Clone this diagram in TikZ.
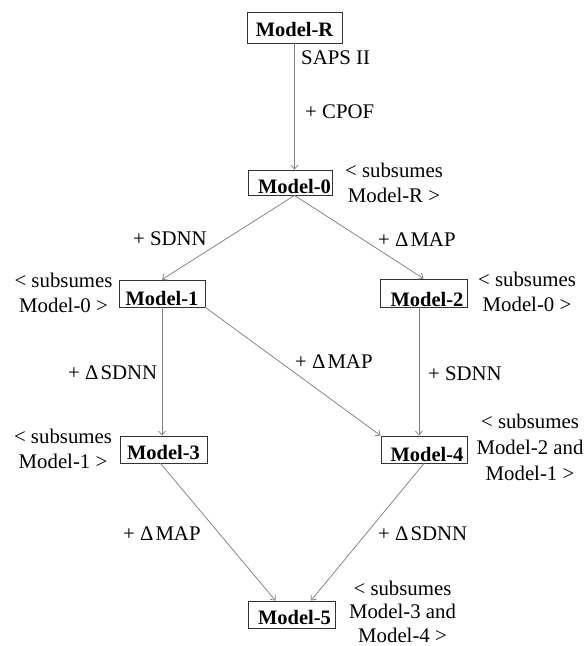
\documentclass[tikz,border=0pt]{standalone}
\usepackage{fontspec}
\setmainfont{Liberation Serif}
\usetikzlibrary{arrows.meta}

\tikzset{
  mbox/.style={draw=black!80, line width=0.9pt, inner xsep=0pt, inner ysep=0pt,
    font=\fontsize{20.5}{24}\selectfont\bfseries},
  link/.style={draw=black!50, line width=0.75pt,
    -{Straight Barb[length=4pt,width=7pt]}},
  lbl/.style={anchor=base west, inner sep=0pt, font=\fontsize{20.8}{25}\selectfont},
  % multi-line notes are placed by the baseline of their last line
  note/.style={anchor=base, inner sep=0pt, align=center,
    font=\fontsize{20.8}{25}\selectfont},
}

\begin{document}
\begin{tikzpicture}[x=1pt, y=-1pt]
  \useasboundingbox (0,0) rectangle (585,646);

  % model boxes
  \node[mbox, minimum width=95pt, minimum height=31pt, text height=24pt, text depth=7pt]
    (mR) at (294.5,27.5) {Model-R};
  \node[mbox, minimum width=84pt, minimum height=25pt, text height=23pt, text depth=2pt]
    (m0) at (290,182.5) {\hspace*{9pt}Model-0};
  \node[mbox, minimum width=86pt, minimum height=27pt, text height=25pt, text depth=2pt]
    (m1) at (162,293.5) {Model-1};
  \node[mbox, minimum width=87pt, minimum height=28pt, text height=27pt, text depth=1pt]
    (m2) at (423.5,293) {\hspace*{7pt}Model-2};
  \node[mbox, minimum width=87pt, minimum height=27pt, text height=23pt, text depth=4pt]
    (m3) at (163.5,449.5) {Model-3};
  \node[mbox, minimum width=86pt, minimum height=27pt, text height=25pt, text depth=2pt]
    (m4) at (424,449.5) {\hspace*{6pt}Model-4};
  \node[mbox, minimum width=87pt, minimum height=27pt, text height=23pt, text depth=4pt]
    (m5) at (291.5,614.5) {\hspace*{6pt}Model-5};

  % attachment points of the connectors
  \coordinate (m0out) at (mR.south |- m0.south);
  \coordinate (m2out) at ([xshift=-4.5pt]m2.south);
  \coordinate (m3out) at ([xshift=-3pt]m3.south);
  \coordinate (m5inL) at ([xshift=-16pt]m5.north);
  \coordinate (m5inR) at ([xshift=19.5pt]m5.north);

  % connectors
  \draw[link] (mR.south) -- (mR.south |- m0.north);
  \draw[link] (m0out) -- (m1.north);
  \draw[link] (m0out) -- (m2.north);
  \draw[link] (m1.south) -- (m1.south |- m3.north);
  \draw[link] (m1.south east) -- (m4.north west);
  \draw[link] (m2out) -- (m2out |- m4.north);
  \draw[link] (m3out) -- (m5inL);
  \draw[link] (m4.south) -- (m5inR);

  % edge labels
  \node[lbl] (tSaps) at (301,64) {SAPS II};
  \node[lbl] (tCpof) at (305,118) {+ CPOF};
  \node[lbl] (t01) at (133,245) {+ SDNN};
  \node[lbl] (t02) at (378,246) {+ Δ\kern2pt MAP};
  \node[lbl] (t13) at (68,379) {+ Δ\kern2pt SDNN};
  \node[lbl] (t14) at (295,368) {+ Δ\kern2pt MAP};
  \node[lbl] (t24) at (428,380) {+ SDNN};
  \node[lbl] (t35) at (123,540) {+ Δ\kern2pt MAP};
  \node[lbl] (t45) at (378,540) {+ Δ\kern2pt SDNN};

  % subsumption notes
  \node[note] (s0) at (394,202) {< subsumes\\Model-R >};
  \node[note] (s1) at (63.5,312) {< subsumes\\Model-0 >};
  \node[note] (s2) at (527,311) {< subsumes\\Model-0 >};
  \node[note] (s3) at (63,468) {< subsumes\\Model-1 >};
  \node[note, font=\fontsize{20.8}{26}\selectfont] (s4) at (530,480)
    {< subsumes\\Model-2 and\\Model-1 >};
  \node[note, font=\fontsize{20.8}{23.5}\selectfont] (s5) at (402.5,642)
    {< subsumes\\Model-3 and\\Model-4 >};
\end{tikzpicture}
\end{document}
